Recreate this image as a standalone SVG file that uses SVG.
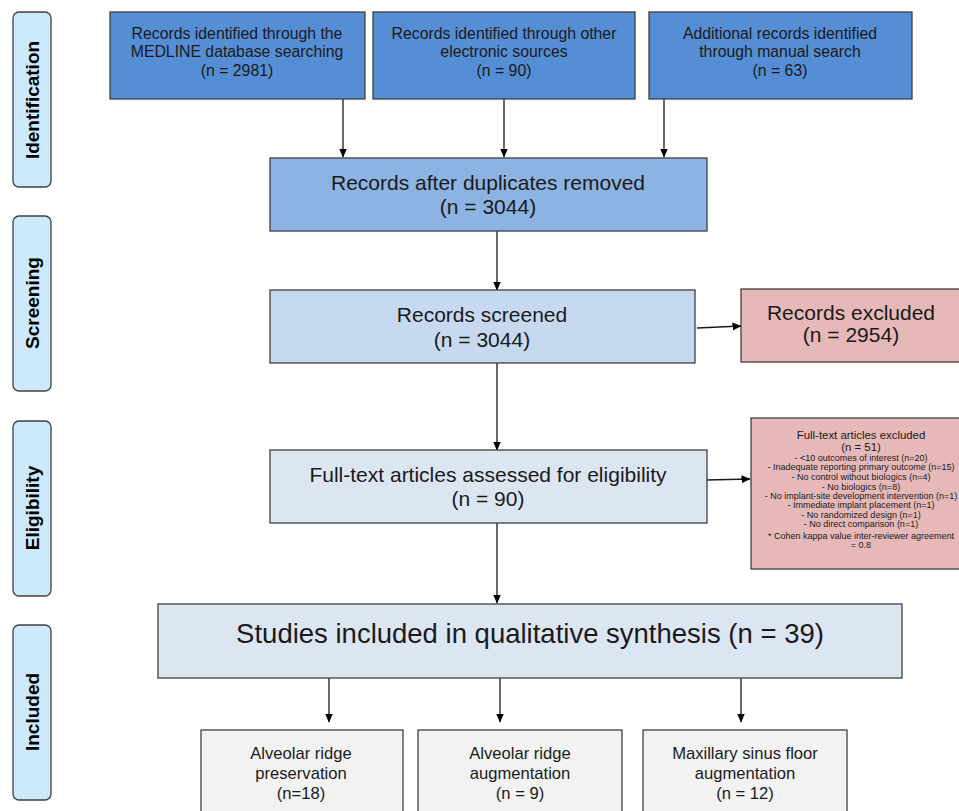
<svg xmlns="http://www.w3.org/2000/svg" width="959" height="811" viewBox="0 0 959 811">
<style>
text{font-family:"Liberation Sans",Arial,sans-serif;fill:#1a1a1a;text-anchor:middle}
.box{stroke:#404040;stroke-width:1.3}
.side{fill:#cdeafc;stroke:#404040;stroke-width:1.3}
.sl{font-weight:bold;font-size:19px;fill:#000}
.c{stroke:#1a1a1a;stroke-width:1.3;fill:none;marker-end:url(#ah)}
.t14{font-size:15.8px}
.t19{font-size:21px}
.t15{font-size:16.6px}
.t9{font-size:9px}
</style>
<defs>
<marker id="ah" markerWidth="9" markerHeight="10" refX="8.5" refY="5" orient="auto" markerUnits="userSpaceOnUse">
<path d="M0,1 L9,5 L0,9 Z" fill="#000"/>
</marker>
</defs>
<rect width="959" height="811" fill="#fff"/>

<g id="side-identification"><rect class="side" x="13" y="12" width="38" height="175" rx="6"/><text class="sl" transform="translate(39,100) rotate(-90)">Identification</text></g>
<g id="side-screening"><rect class="side" x="13" y="216" width="38" height="175" rx="6"/><text class="sl" transform="translate(39,303) rotate(-90)">Screening</text></g>
<g id="side-eligibility"><rect class="side" x="13" y="421" width="38" height="175" rx="6"/><text class="sl" transform="translate(39,508) rotate(-90)">Eligibility</text></g>
<g id="side-included"><rect class="side" x="13" y="625" width="38" height="175" rx="6"/><text class="sl" transform="translate(39,712) rotate(-90)">Included</text></g>

<g id="connectors">
<line class="c" x1="343" y1="99" x2="343" y2="157"/>
<line class="c" x1="504" y1="99" x2="504" y2="157"/>
<line class="c" x1="664" y1="99" x2="664" y2="157"/>
<line class="c" x1="497" y1="231" x2="497" y2="290"/>
<line class="c" x1="697" y1="328" x2="741" y2="326"/>
<line class="c" x1="497" y1="363" x2="497" y2="450"/>
<line class="c" x1="707" y1="480" x2="750" y2="479"/>
<line class="c" x1="497" y1="523" x2="497" y2="603"/>
<line class="c" x1="329" y1="678" x2="329" y2="722"/>
<line class="c" x1="500" y1="678" x2="500" y2="722"/>
<line class="c" x1="741" y1="678" x2="741" y2="722"/>
</g>

<g id="medline"><rect class="box" x="110" y="12" width="255" height="87" fill="#558ed5"/>
<text class="t14" x="237" y="39">Records identified through the</text>
<text class="t14" x="237" y="57">MEDLINE database searching</text>
<text class="t14" x="237" y="76">(n = 2981)</text></g>

<g id="other"><rect class="box" x="373" y="12" width="262" height="87" fill="#558ed5"/>
<text class="t14" x="504" y="39">Records identified through other</text>
<text class="t14" x="504" y="57">electronic sources</text>
<text class="t14" x="504" y="76">(n = 90)</text></g>

<g id="manual"><rect class="box" x="649" y="12" width="263" height="87" fill="#558ed5"/>
<text class="t14" x="780" y="39">Additional records identified</text>
<text class="t14" x="780" y="57">through manual search</text>
<text class="t14" x="780" y="76">(n = 63)</text></g>

<g id="duplicates"><rect class="box" x="270" y="158" width="437" height="73" fill="#8db3e2"/>
<text class="t19" x="488" y="190">Records after duplicates removed</text>
<text class="t19" x="488" y="214">(n = 3044)</text></g>

<g id="screened"><rect class="box" x="270" y="290" width="425" height="73" fill="#c6d9f1"/>
<text class="t19" x="482" y="322">Records screened</text>
<text class="t19" x="482" y="347">(n = 3044)</text></g>

<g id="excluded"><rect class="box" x="741" y="289" width="222" height="73" fill="#e6b9b8"/>
<text class="t19" x="851" y="320">Records excluded</text>
<text class="t19" x="851" y="342">(n = 2954)</text></g>

<g id="fulltext"><rect class="box" x="270" y="450" width="437" height="73" fill="#dce6f2"/>
<text class="t19" x="488" y="482">Full-text articles assessed for eligibility</text>
<text class="t19" x="488" y="506">(n = 90)</text></g>

<g id="ft-excluded"><rect class="box" x="751" y="418" width="212" height="151" fill="#e6b9b8"/>
<text x="861" y="439" style="font-size:11.4px">Full-text articles excluded</text>
<text x="861" y="451" style="font-size:11.4px">(n = 51)</text>
<text class="t9" x="861" y="461">- &lt;10 outcomes of interest (n=20)</text>
<text class="t9" x="861" y="470">- Inadequate reporting primary outcome (n=15)</text>
<text class="t9" x="861" y="480">- No control without biologics (n=4)</text>
<text class="t9" x="861" y="490">- No biologics (n=8)</text>
<text class="t9" x="861" y="499">- No implant-site development intervention (n=1)</text>
<text class="t9" x="861" y="508">- Immediate implant placement (n=1)</text>
<text class="t9" x="861" y="518">- No randomized design (n=1)</text>
<text class="t9" x="861" y="527">- No direct comparison (n=1)</text>
<text class="t9" x="861" y="539">* Cohen kappa value inter-reviewer agreement</text>
<text class="t9" x="861" y="548">= 0.8</text></g>

<g id="included"><rect class="box" x="158" y="604" width="744" height="74" fill="#dce6f2"/>
<text x="530" y="643" style="font-size:27.5px">Studies included in qualitative synthesis (n = 39)</text></g>

<g id="arp"><rect class="box" x="201" y="730" width="202" height="90" fill="#f2f2f2"/>
<text class="t15" x="301" y="759">Alveolar ridge</text>
<text class="t15" x="301" y="779">preservation</text>
<text class="t15" x="301" y="799">(n=18)</text></g>

<g id="ara"><rect class="box" x="418" y="730" width="204" height="90" fill="#f2f2f2"/>
<text class="t15" x="520" y="759">Alveolar ridge</text>
<text class="t15" x="520" y="779">augmentation</text>
<text class="t15" x="520" y="799">(n = 9)</text></g>

<g id="msfa"><rect class="box" x="643" y="730" width="204" height="90" fill="#f2f2f2"/>
<text class="t15" x="745" y="759">Maxillary sinus floor</text>
<text class="t15" x="745" y="779">augmentation</text>
<text class="t15" x="745" y="799">(n = 12)</text></g>
</svg>
